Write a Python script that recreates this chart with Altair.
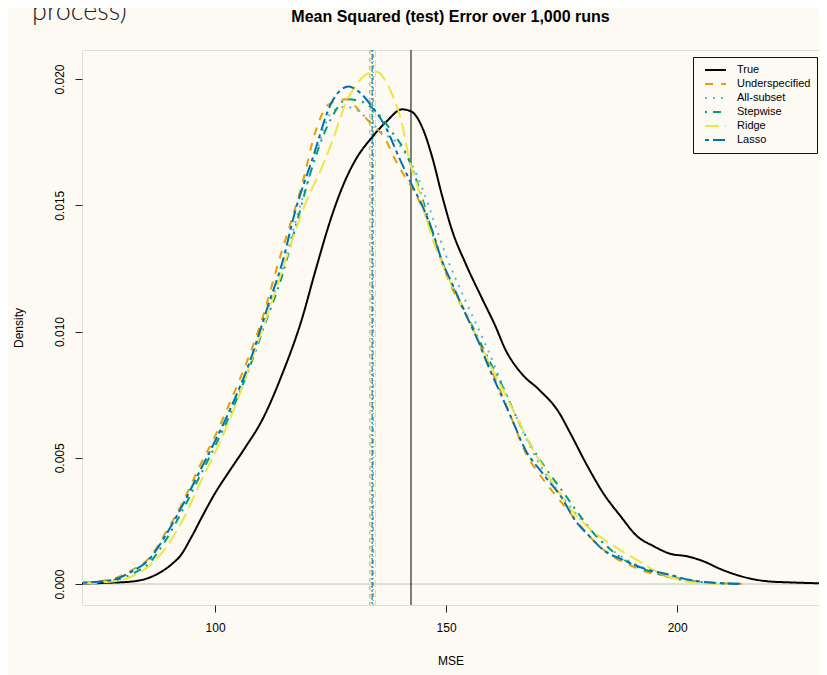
import altair as alt
import pandas as pd

TITLE = "Mean Squared (test) Error over 1,000 runs"
CORNER_TEXT = "process)"
SERIES = ["True", "Underspecified", "All-subset", "Stepwise", "Ridge", "Lasso"]
COLORS = ["#000000", "#E69F00", "#56B4E9", "#009E73", "#F0E442", "#0072B2"]
DASH_CURVE = [[1, 0], [8, 8], [2, 6], [2, 6, 8, 6], [14, 6], [4, 4, 12, 4]]
DASH_VLINE = [[1, 0], [4, 4], [1, 3], [1, 3, 4, 3], [7, 3], [2, 2, 6, 2]]

X_TICKS = [100, 150, 200]
Y_TICKS = [0.0, 0.005, 0.010, 0.015, 0.020]

# mean MSE per method (vertical lines)
MEANS = [142.4, 133.5, 133.8, 134.2, 134.7, 134.0]

true_x = [71.2, 77.0, 82.0, 86.4, 90.7, 92.4, 95.0, 97.0, 100.0, 103.2, 106.5, 110.2, 114.5, 118.8,
          121.7, 125.3, 127.5, 130.4, 134.0, 137.0, 140.5, 142.6, 144.8, 147.0, 149.1, 151.3, 154.2,
          157.8, 160.7, 162.8, 166.5, 170.1, 174.4, 176.8, 180.5, 184.0, 187.7, 191.3, 194.9, 198.5,
          202.1, 205.7, 209.3, 212.9, 216.5, 220.1, 223.7, 230.7]
true_d = [0.00002, 0.00005, 0.0001, 0.0003, 0.0008, 0.0011, 0.0019, 0.0026, 0.0036, 0.0045, 0.0054,
          0.0065, 0.0083, 0.0105, 0.0124, 0.0146, 0.0157, 0.0168, 0.0177, 0.0183, 0.0188, 0.0187,
          0.0181, 0.0169, 0.0154, 0.0140, 0.0127, 0.0113, 0.0102, 0.0093, 0.0083, 0.0077, 0.0068,
          0.0060, 0.0047, 0.0036, 0.0027, 0.0019, 0.0015, 0.0012, 0.0011, 0.0009, 0.0006, 0.00036,
          0.00019, 0.0001, 0.00007, 0.00003]

under_x = [71.5, 77.7, 82.0, 85.6, 89.2, 92.9, 96.5, 100.1, 103.7, 107.3, 110.2, 113.8, 116.7, 118.8,
           121.7, 124.6, 128.5, 131.4, 133.4, 136.9, 139.0, 141.2, 142.6, 146.3, 150.6, 154.2, 156.3,
           159.2, 161.4, 164.3, 167.2, 170.8, 175.1, 178.7, 182.0, 186.2, 189.8, 193.0, 198.5, 203.0,
           208.0, 214.0]
under_d = [0.00006, 0.0002, 0.00055, 0.0010, 0.0020, 0.0032, 0.0046, 0.0059, 0.0074, 0.0090, 0.0105,
           0.0128, 0.0145, 0.0158, 0.0179, 0.0190, 0.0192, 0.0187, 0.0183, 0.0176, 0.0168, 0.0161,
           0.0157, 0.0143, 0.0120, 0.0107, 0.0099, 0.0087, 0.0078, 0.0065, 0.0052, 0.0042, 0.0032,
           0.0024, 0.0017, 0.00108, 0.00075, 0.0005, 0.0003, 0.00014, 0.00005, 0.00001]

allsub_x = [71.5, 77.7, 82.0, 85.6, 89.2, 92.9, 96.5, 100.1, 103.7, 107.3, 111.0, 114.5, 117.5, 121.0,
            125.3, 128.0, 130.5, 133.0, 136.0, 139.8, 142.6, 145.0, 147.5, 150.0, 152.5, 155.5, 158.5,
            161.5, 164.5, 167.5, 171.0, 175.0, 179.0, 183.0, 187.0, 192.0, 197.0, 202.0, 207.0, 214.0]
allsub_d = [0.00005, 0.00016, 0.0005, 0.00095, 0.0019, 0.0031, 0.0044, 0.0057, 0.0071, 0.0087, 0.0107,
            0.0124, 0.0144, 0.0165, 0.0187, 0.0189, 0.0188, 0.0184, 0.0179, 0.0174, 0.0166, 0.0156,
            0.0143, 0.0130, 0.0119, 0.0107, 0.0095, 0.0082, 0.0069, 0.0057, 0.0045, 0.0035, 0.0026,
            0.0018, 0.0012, 0.0007, 0.0004, 0.00018, 0.00007, 0.00001]

step_x = [71.5, 77.7, 82.0, 85.6, 89.2, 92.9, 96.5, 100.1, 103.7, 107.3, 111.0, 114.5, 117.5, 121.7,
          125.3, 128.6, 131.8, 135.4, 138.3, 141.2, 142.6, 144.8, 147.7, 150.6, 154.9, 159.2, 162.0,
          165.0, 168.0, 171.5, 175.5, 179.0, 182.0, 186.0, 190.0, 195.0, 200.0, 205.0, 210.0, 214.0]
step_d = [0.00004, 0.00013, 0.0004, 0.0008, 0.0017, 0.0029, 0.0042, 0.0055, 0.0069, 0.0085, 0.0104,
          0.0122, 0.0142, 0.0169, 0.0185, 0.0192, 0.0191, 0.0186, 0.0179, 0.0171, 0.0165, 0.0153,
          0.0135, 0.0121, 0.0105, 0.0089, 0.0079, 0.0067, 0.0056, 0.0046, 0.0036, 0.0027, 0.0020,
          0.0013, 0.0008, 0.00045, 0.0002, 0.00008, 0.00002, 0.0]

ridge_x = [71.5, 77.7, 82.0, 85.6, 89.2, 92.9, 96.5, 101.5, 105.1, 108.5, 111.6, 114.5, 117.4, 120.3,
           122.4, 125.3, 128.2, 131.1, 134.7, 138.3, 140.5, 141.9, 144.1, 147.0, 149.1, 151.3, 155.6,
           159.2, 162.0, 165.0, 168.0, 171.5, 176.8, 181.0, 185.5, 191.3, 195.6, 200.6, 204.2, 210.0]
ridge_d = [0.00003, 0.0001, 0.0003, 0.0007, 0.0014, 0.0025, 0.0039, 0.0058, 0.0074, 0.0092, 0.0108,
           0.0124, 0.0140, 0.0154, 0.0162, 0.0175, 0.0190, 0.0199, 0.0203, 0.0194, 0.0182, 0.0169,
           0.0156, 0.0137, 0.0127, 0.0118, 0.0102, 0.0088, 0.0078, 0.0067, 0.0056, 0.0045, 0.0030,
           0.0022, 0.0016, 0.00095, 0.00049, 0.00016, 0.00005, 0.0]

lasso_x = [71.5, 77.7, 82.0, 85.6, 89.2, 92.9, 96.5, 100.1, 103.7, 107.3, 111.6, 114.5, 117.4, 121.0,
           125.3, 128.9, 131.1, 134.0, 136.9, 139.8, 142.6, 144.8, 147.0, 149.1, 151.3, 154.2, 157.0,
           159.2, 161.4, 164.3, 167.2, 170.8, 175.1, 178.0, 181.0, 184.0, 188.4, 192.7, 198.5, 202.8,
           207.0, 214.0]
lasso_d = [0.00005, 0.00016, 0.0005, 0.00095, 0.0019, 0.0031, 0.0044, 0.0057, 0.0071, 0.0087, 0.0111,
           0.0127, 0.0148, 0.0168, 0.0191, 0.0197, 0.0195, 0.0189, 0.0181, 0.0169, 0.0158, 0.0150,
           0.0140, 0.0128, 0.0119, 0.0107, 0.0096, 0.0086, 0.0077, 0.0065, 0.0053, 0.0044, 0.0034,
           0.0025, 0.0019, 0.00135, 0.00095, 0.00062, 0.00036, 0.00016, 0.00006, 0.00001]

X_LISTS = [true_x, under_x, allsub_x, step_x, ridge_x, lasso_x]
D_LISTS = [true_d, under_d, allsub_d, step_d, ridge_d, lasso_d]

rows = []
for name, xs, ds in zip(SERIES, X_LISTS, D_LISTS):
    for xv, dv in zip(xs, ds):
        rows.append({"model": name, "mse": xv, "density": dv})
df = pd.DataFrame(rows)

BG = "#FDFAF3"
FONT = "Liberation Sans"

xscale = alt.Scale(domain=[71.2, 230.7], nice=False, zero=False)
yscale = alt.Scale(domain=[-0.00083, 0.02115], nice=False, zero=False)

X = alt.X("mse:Q", scale=xscale, axis=alt.Axis(
    values=X_TICKS, title="MSE", grid=False, domain=False, tickSize=7, tickColor="#222222",
    labelFontSize=12, labelPadding=10, labelColor="black", titleFontSize=12,
    titleFontWeight="normal", titleColor="black", titlePadding=22, labelFlush=False))
Y = alt.Y("density:Q", scale=yscale, axis=alt.Axis(
    values=Y_TICKS, format=".3f", title="Density", grid=False, domain=False, tickSize=7,
    tickColor="#222222", labelFontSize=12, labelAngle=270, labelAlign="center",
    labelBaseline="bottom", labelPadding=9, labelColor="black", titleFontSize=12,
    titleFontWeight="normal", titleColor="black", titlePadding=28, labelFlush=False))

legend = alt.Legend(title=None, orient="none", legendX=611, legendY=7, symbolType="stroke",
                    symbolSize=441, symbolStrokeWidth=2, symbolOffset=5, labelFontSize=11,
                    labelFont=FONT, labelColor="black", strokeColor="#111111", fillColor=BG,
                    padding=6, rowPadding=0, clipHeight=14, labelOffset=10, cornerRadius=0)

curves = alt.Chart(df).mark_line(strokeWidth=2, interpolate="monotone", clip=True).encode(
    x=X, y=Y,
    color=alt.Color("model:N", scale=alt.Scale(domain=SERIES, range=COLORS), legend=legend),
    strokeDash=alt.StrokeDash("model:N", scale=alt.Scale(domain=SERIES, range=DASH_CURVE),
                              legend=legend),
)

vlines = []
for i, name in enumerate(SERIES):
    vlines.append(
        alt.Chart(pd.DataFrame({"mse": [MEANS[i]]})).mark_rule(
            color=COLORS[i], strokeDash=DASH_VLINE[i], strokeWidth=1).encode(x=X)
    )

zero_line = alt.Chart(pd.DataFrame({"density": [0.0]})).mark_rule(
    color="#BEBEBE", strokeWidth=1).encode(y=Y)

title_txt = alt.Chart(pd.DataFrame({"t": [TITLE]})).mark_text(
    font=FONT, fontSize=16, fontWeight="bold", color="black", align="center",
    baseline="middle").encode(text="t:N", x=alt.value(368.5), y=alt.value(-33))

corner_txt = alt.Chart(pd.DataFrame({"t": [CORNER_TEXT]})).mark_text(
    font="Lato", fontSize=27, fontWeight=300, color="#222222", align="left",
    baseline="alphabetic").encode(text="t:N", x=alt.value(-50), y=alt.value(-30))

chart = alt.layer(zero_line, *vlines, curves, title_txt, corner_txt).properties(
    width=737, height=555,
    autosize=alt.AutoSizeParams(type="none"),
    padding={"left": 74, "top": 42, "right": 0, "bottom": 70},
    background=BG,
).configure_view(stroke="#222222", strokeWidth=1).configure(font=FONT)

chart.save("out.html", embed_options={"renderer": "svg", "actions": False})
